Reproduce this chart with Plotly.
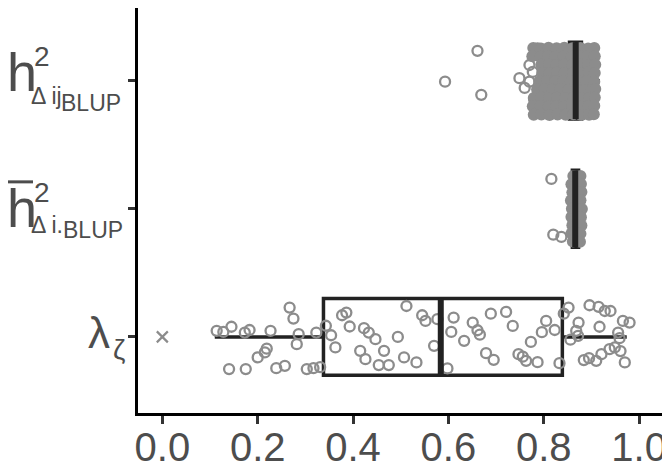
import plotly.graph_objects as go

# ================= DATA =================
# category positions, bottom to top: lambda_zeta, h2bar_i.BLUP, h2_ij_BLUP
cat_pos = [1, 2, 3]

# precomputed box statistics per category
box_q1 = [0.338, 0.860, 0.854]
box_median = [0.584, 0.866, 0.867]
box_q3 = [0.839, 0.873, 0.879]
box_low = [0.110, 0.852, 0.809]
box_high = [0.974, 0.878, 0.918]

# outlier of lambda box
lam_outlier_x = [0.0]

# lambda points (value, vertical jitter)
lam_x = [0.114, 0.128, 0.145, 0.173, 0.183, 0.227, 0.267, 0.275, 0.286, 0.282,
         0.323, 0.200, 0.215, 0.219, 0.140, 0.175, 0.239, 0.257, 0.303, 0.317,
         0.331, 0.343, 0.354, 0.363, 0.377, 0.386, 0.393, 0.423, 0.433, 0.447,
         0.415, 0.426, 0.454, 0.475, 0.465, 0.494, 0.512, 0.545, 0.552, 0.507,
         0.533, 0.570, 0.577, 0.611, 0.606, 0.598, 0.633, 0.651, 0.661, 0.666,
         0.689, 0.721, 0.735, 0.679, 0.695, 0.747, 0.756, 0.763, 0.787, 0.773,
         0.796, 0.805, 0.823, 0.833, 0.842, 0.852, 0.856, 0.873, 0.868, 0.872,
         0.896, 0.915, 0.928, 0.940, 0.917, 0.966, 0.980, 0.956, 0.959, 0.884,
         0.895, 0.910, 0.921, 0.938, 0.949, 0.961, 0.970]
lam_jit = [0.047, 0.039, 0.079, 0.034, 0.054, 0.047, 0.229, 0.143, 0.021, -0.057,
           0.034, -0.160, -0.121, -0.092, -0.251, -0.251, -0.244, -0.226, -0.251, -0.244,
           -0.236, 0.087, 0.013, -0.082, 0.169, 0.190, 0.081, 0.068, 0.034, -0.018,
           -0.109, -0.174, -0.220, -0.220, -0.109, 0.000, 0.241, 0.169, 0.125, -0.160,
           -0.199, -0.070, 0.138, 0.151, 0.039, -0.246, -0.031, 0.112, 0.052, 0.017,
           0.181, 0.195, 0.086, -0.127, -0.179, -0.135, -0.154, -0.187, -0.197, -0.039,
           0.037, 0.125, 0.054, -0.205, 0.181, 0.229, -0.022, 0.112, 0.047, 0.008,
           0.247, 0.235, 0.202, 0.202, 0.079, 0.125, 0.112, 0.034, -0.010, -0.181,
           -0.166, -0.187, -0.135, -0.096, -0.082, -0.111, -0.199]

# h2bar_i.BLUP: sparse points and the dense core
h2i_x = [0.816, 0.820, 0.837]
h2i_jit = [0.233, -0.202, -0.220]
h2i_core_x = [0.862, 0.870, 0.877, 0.858, 0.868, 0.878, 0.860, 0.869, 0.879,
              0.857, 0.867, 0.877, 0.859, 0.869, 0.880, 0.858, 0.868, 0.878,
              0.860, 0.870, 0.879, 0.858, 0.868, 0.877, 0.861, 0.869, 0.876]
h2i_core_jit = [0.255, 0.252, 0.256, 0.192, 0.189, 0.194, 0.128, 0.126, 0.130,
                0.064, 0.061, 0.066, 0.000, 0.003, -0.002, -0.064, -0.061, -0.066,
                -0.128, -0.125, -0.130, -0.192, -0.189, -0.194, -0.255, -0.252, -0.257]

# h2_ij_BLUP: sparse points and the dense core
h2ij_x = [0.661, 0.593, 0.669, 0.787, 0.770, 0.749, 0.770, 0.780, 0.784, 0.760, 0.777]
h2ij_jit = [0.233, -0.008, -0.111, 0.252, 0.122, 0.019, -0.008, -0.150, -0.228, -0.057, 0.068]
h2ij_core_x = [0.778, 0.794, 0.810, 0.827, 0.843, 0.860, 0.877, 0.893, 0.906,
               0.776, 0.792, 0.809, 0.825, 0.842, 0.859, 0.876, 0.892, 0.907,
               0.795, 0.811, 0.826, 0.843, 0.860, 0.876, 0.893, 0.908,
               0.797, 0.812, 0.828, 0.844, 0.861, 0.877, 0.894, 0.907,
               0.791, 0.807, 0.824, 0.841, 0.857, 0.874, 0.890, 0.906,
               0.786, 0.802, 0.818, 0.835, 0.852, 0.868, 0.885, 0.901, 0.908,
               0.779, 0.795, 0.811, 0.828, 0.845, 0.862, 0.879, 0.895, 0.907,
               0.777, 0.793, 0.810, 0.826, 0.843, 0.860, 0.877, 0.893, 0.906,
               0.779, 0.795, 0.812, 0.829, 0.846, 0.862, 0.879, 0.895, 0.905]
h2ij_core_jit = [0.255, 0.251, 0.257, 0.252, 0.256, 0.253, 0.255, 0.250, 0.254,
                 0.190, 0.186, 0.193, 0.188, 0.191, 0.187, 0.192, 0.189, 0.190,
                 0.125, 0.128, 0.122, 0.126, 0.124, 0.127, 0.123, 0.125,
                 0.060, 0.057, 0.062, 0.059, 0.061, 0.058, 0.063, 0.060,
                 -0.005, -0.002, -0.007, -0.004, -0.006, -0.003, -0.005, -0.008,
                 -0.070, -0.067, -0.072, -0.069, -0.071, -0.068, -0.073, -0.070, -0.066,
                 -0.135, -0.132, -0.137, -0.134, -0.136, -0.133, -0.138, -0.135, -0.131,
                 -0.200, -0.197, -0.202, -0.199, -0.201, -0.198, -0.203, -0.200, -0.196,
                 -0.267, -0.264, -0.268, -0.265, -0.266, -0.263, -0.268, -0.266, -0.262]

x_ticks = [0.0, 0.2, 0.4, 0.6, 0.8, 1.0]

# ================= STYLE =================
PT_COLOR = "rgb(140,140,140)"
BOX_COLOR = "#222222"
TEXT_COLOR = "#4d4d4d"
FONT = "Liberation Sans, Arial, sans-serif"
# page body has an 8px margin, so the figure is shrunk by that much
FIG_W, FIG_H = 662, 459
PLOT_L, PLOT_W = 138, 524   # plot area left edge / width, in page pixels


def xp(px):
    # horizontal page pixel -> paper coordinate
    return (px - PLOT_L) / PLOT_W


fig = go.Figure()

# open jittered points
open_x = lam_x + h2i_x + h2ij_x
open_y = ([cat_pos[0] + j for j in lam_jit]
          + [cat_pos[1] + j for j in h2i_jit]
          + [cat_pos[2] + j for j in h2ij_jit])
fig.add_trace(go.Scatter(
    x=open_x, y=open_y, mode="markers",
    marker=dict(symbol="circle-open", size=10, color=PT_COLOR,
                line=dict(width=2.3, color=PT_COLOR)),
    showlegend=False, hoverinfo="skip"
))

# dense cores
core_x = h2i_core_x + h2ij_core_x
core_y = ([cat_pos[1] + j for j in h2i_core_jit]
          + [cat_pos[2] + j for j in h2ij_core_jit])
fig.add_trace(go.Scatter(
    x=core_x, y=core_y, mode="markers",
    marker=dict(symbol="circle", size=12, color=PT_COLOR, line=dict(width=0)),
    showlegend=False, hoverinfo="skip"
))

# outlier cross
fig.add_trace(go.Scatter(
    x=lam_outlier_x, y=[cat_pos[0]] * len(lam_outlier_x), mode="markers",
    marker=dict(symbol="x-thin", size=11, color=PT_COLOR,
                line=dict(width=2.2, color=PT_COLOR)),
    showlegend=False, hoverinfo="skip"
))

# boxes
fig.add_trace(go.Box(
    y=cat_pos, q1=box_q1, median=box_median, q3=box_q3,
    lowerfence=box_low, upperfence=box_high,
    orientation="h", width=0.6, whiskerwidth=0,
    line=dict(color=BOX_COLOR, width=3.5),
    fillcolor="rgba(0,0,0,0)", boxpoints=False,
    showlegend=False, hoverinfo="skip"
))

# thicker median bars
med_x, med_y = [], []
for p, m in zip(cat_pos, box_median):
    med_x += [m, m, None]
    med_y += [p - 0.3, p + 0.3, None]
fig.add_trace(go.Scatter(
    x=med_x, y=med_y, mode="lines",
    line=dict(color=BOX_COLOR, width=6),
    showlegend=False, hoverinfo="skip"
))

# y labels built from pieces
labels = [
    # (category, text, left px, size, yshift)
    (3, "h", 5, 54, 9),
    (3, "2", 32, 28, 24),
    (3, "\u0394 ij", 29, 23, -15),
    (3, "BLUP", 59, 23, -22),
    (2, "h", 5, 54, 1),
    (2, "2", 32, 28, 16),
    (2, "\u0394 i.", 29, 23, -16),
    (2, "BLUP", 61, 23, -21),
    (1, "\u03bb", 86, 44, 4),
    (1, "\u03b6", 111, 28, -13),
]
for cat, txt, left, size, shift in labels:
    fig.add_annotation(
        x=xp(left), xref="paper", y=cat, yref="y", yshift=shift,
        text=txt, showarrow=False, xanchor="left", yanchor="middle",
        font=dict(family=FONT, size=size, color=TEXT_COLOR)
    )

# overline for h bar
fig.add_shape(type="line", xref="paper", yref="y",
              x0=xp(8), x1=xp(33), y0=2 + 0.21, y1=2 + 0.21,
              line=dict(color=TEXT_COLOR, width=3))

fig.update_layout(
    width=FIG_W, height=FIG_H,
    margin=dict(l=PLOT_L - 8, r=FIG_W - (PLOT_L - 8) - PLOT_W, t=0, b=54),
    paper_bgcolor="white", plot_bgcolor="white",
    font=dict(family=FONT, color=TEXT_COLOR),
    xaxis=dict(
        range=[-0.051, 1.048], tickvals=x_ticks,
        ticktext=[f"{v:.1f}" for v in x_ticks],
        ticks="outside", ticklen=8, tickwidth=2.5, tickcolor="#333333",
        ticklabelstandoff=-11,
        showline=True, linecolor="black", linewidth=3,
        showgrid=False, zeroline=False, automargin=False,
        tickfont=dict(family=FONT, size=40, color=TEXT_COLOR)
    ),
    yaxis=dict(
        range=[0.406, 3.567], tickvals=cat_pos, ticktext=["", "", ""],
        ticks="outside", ticklen=7, tickwidth=2.5, tickcolor="#333333",
        showline=True, linecolor="black", linewidth=3,
        showgrid=False, zeroline=False, automargin=False
    ),
)

fig.write_html("out.html")
